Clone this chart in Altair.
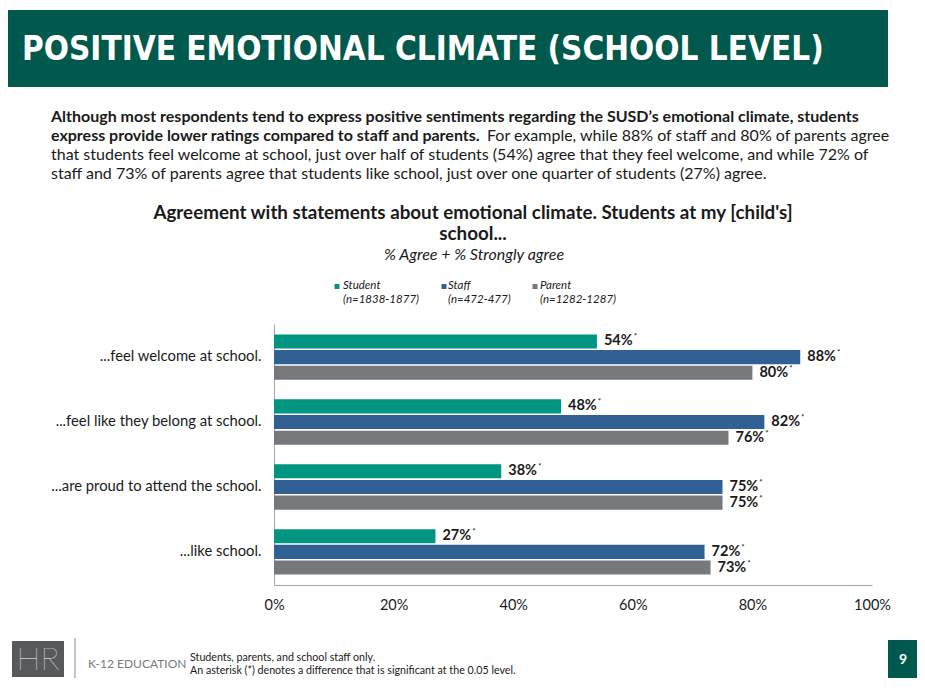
import altair as alt
import pandas as pd

# ---------------- data ----------------
statements = [
    "...feel welcome at school.",
    "...feel like they belong at school.",
    "...are proud to attend the school.",
    "...like school.",
]
groups = ["Student", "Staff", "Parent"]
group_n = ["(n=1838-1877)", "(n=472-477)", "(n=1282-1287)"]
student = [54, 48, 38, 27]
staff = [88, 82, 75, 72]
parent = [80, 76, 75, 73]
x_ticks = [0, 20, 40, 60, 80, 100]
colors = ["#009482", "#316094", "#77787b"]

rows = []
for i, s in enumerate(statements):
    for g, vals in zip(groups, [student, staff, parent]):
        rows.append({"statement": s, "group": g, "value": vals[i]})
df = pd.DataFrame(rows)

# ---------------- layout ----------------
PL, PT = 266, 316          # plot origin on page = (274, 324)
W, H = 598, 261
CW, CH = 909, 670
OX, OY = 8 + PL, 8 + PT


def px(x):
    return x - OX


def py(y):
    return y - OY


one = pd.DataFrame({"a": [0]})
FONT = "Lato"


def txt(text, x, y, size=14, weight="normal", style="normal", color="#1a1a1a",
        align="left", font=FONT):
    return alt.Chart(one).mark_text(
        align=align, baseline="middle", fontSize=size, fontWeight=weight,
        fontStyle=style, color=color, font=font
    ).encode(x=alt.value(px(x)), y=alt.value(py(y)), text=alt.value(text))


def box(x1, x2, y1, y2, color):
    return alt.Chart(one).mark_rect(color=color).encode(
        x=alt.value(px(x1)), x2=alt.value(px(x2)),
        y=alt.value(py(y1)), y2=alt.value(py(y2)))


def vline(x, y1, y2, color):
    return alt.Chart(one).mark_rule(color=color, strokeWidth=1).encode(
        x=alt.value(px(x)), y=alt.value(py(y1)), y2=alt.value(py(y2)))


GREEN = "#00594c"

layers = []
# header
layers.append(box(8, 888, 10, 87, GREEN))
layers.append(txt("POSITIVE EMOTIONAL CLIMATE (SCHOOL LEVEL)", 22, 50, size=33,
                  weight="bold", color="white", font="DejaVu Sans Condensed"))

# paragraph
PS = 16
layers.append(txt("Although most respondents tend to express positive sentiments regarding the SUSD\u2019s emotional climate, students",
                  51, 117, size=PS, weight="bold"))
layers.append(txt("express provide lower ratings compared to staff and parents.", 51, 136, size=PS, weight="bold"))
layers.append(txt("For example, while 88% of staff and 80% of parents agree", 487, 136, size=PS))
layers.append(txt("that students feel welcome at school, just over half of students (54%) agree that they feel welcome, and while 72% of",
                  51, 155, size=PS))
layers.append(txt("staff and 73% of parents agree that students like school, just over one quarter of students (27%) agree.",
                  51, 174, size=PS))

# chart title
layers.append(txt("Agreement with statements about emotional climate. Students at my [child's]", 473, 213,
                  size=18.8, weight="bold", align="center"))
layers.append(txt("school...", 473, 234, size=18.8, weight="bold", align="center"))
layers.append(txt("% Agree + % Strongly agree", 474, 255, size=16, style="italic", align="center"))

# legend
leg_sq_x = [337, 444, 535]
leg_tx_x = [343, 448, 540]
for g, n, c, sx, tx in zip(groups, group_n, colors, leg_sq_x, leg_tx_x):
    layers.append(box(sx - 2.5, sx + 2.5, 284, 289, c))
    layers.append(txt(g, tx, 286, size=11.5, style="italic"))
    layers.append(txt(n, tx, 300, size=11.5, style="italic"))

# bars
y_enc = alt.Y("statement:N", sort=statements,
              scale=alt.Scale(paddingInner=0.3, paddingOuter=0.16),
              axis=alt.Axis(title=None, ticks=False, labelFontSize=14.8, labelFont=FONT,
                            labelColor="#1a1a1a", labelPadding=13, domainColor="#a6a6a6",
                            labelLimit=300))
yoff = alt.YOffset("group:N", sort=groups, scale=alt.Scale(paddingInner=0.1))
x_enc = alt.X("value:Q", scale=alt.Scale(domain=[0, 100], nice=False),
              axis=alt.Axis(title=None, values=x_ticks, ticks=False, grid=False,
                            labelExpr="datum.value + '%'", labelFontSize=14.5, labelFont=FONT,
                            labelColor="#1a1a1a", labelPadding=13, domainColor="#a6a6a6",
                            labelFlush=False))
bars = alt.Chart(df).mark_bar().encode(
    x=x_enc, y=y_enc, yOffset=yoff,
    color=alt.Color("group:N", scale=alt.Scale(domain=groups, range=colors), legend=None))
labels_pct = alt.Chart(df).transform_calculate(lab="datum.value + '%'").mark_text(
    align="left", baseline="middle", dx=7, fontSize=14.5, fontWeight="bold", font=FONT,
    color="#1a1a1a").encode(
    x="value:Q", y=alt.Y("statement:N", sort=statements), yOffset=alt.YOffset("group:N", sort=groups),
    text="lab:N")
stars = alt.Chart(df).mark_text(align="left", baseline="middle", dx=37, dy=-4, fontSize=7,
                                fontWeight="bold", font=FONT, color="#1a1a1a").encode(
    x="value:Q", y=alt.Y("statement:N", sort=statements), yOffset=alt.YOffset("group:N", sort=groups),
    text=alt.value("*"))
layers += [bars, labels_pct, stars]

# footer
layers.append(box(12, 64, 641, 677, "#58595b"))
layers.append(txt("HR", 38, 660, size=32, weight=200, color="white", align="center"))
layers.append(vline(75, 638, 678, "#8c8c8c"))
layers.append(txt("K-12 EDUCATION", 88, 664, size=12, color="#7a7a7a"))
layers.append(txt("Students, parents, and school staff only.", 190, 658, size=10.7, color="#1a1a1a"))
layers.append(txt("An asterisk (*) denotes a difference that is significant at the 0.05 level.", 190, 671,
                  size=10.7, color="#1a1a1a"))
layers.append(box(888, 917, 640, 678, GREEN))
layers.append(txt("9", 903, 660, size=14, weight="bold", color="white", align="center"))

chart = alt.layer(*layers).properties(
    width=W, height=H,
    padding={"left": PL, "top": PT, "right": CW - PL - W, "bottom": CH - PT - H},
    autosize="none", background="white",
).configure_view(stroke=None)

chart.save("out.html", embed_options={"renderer": "svg", "actions": False})
